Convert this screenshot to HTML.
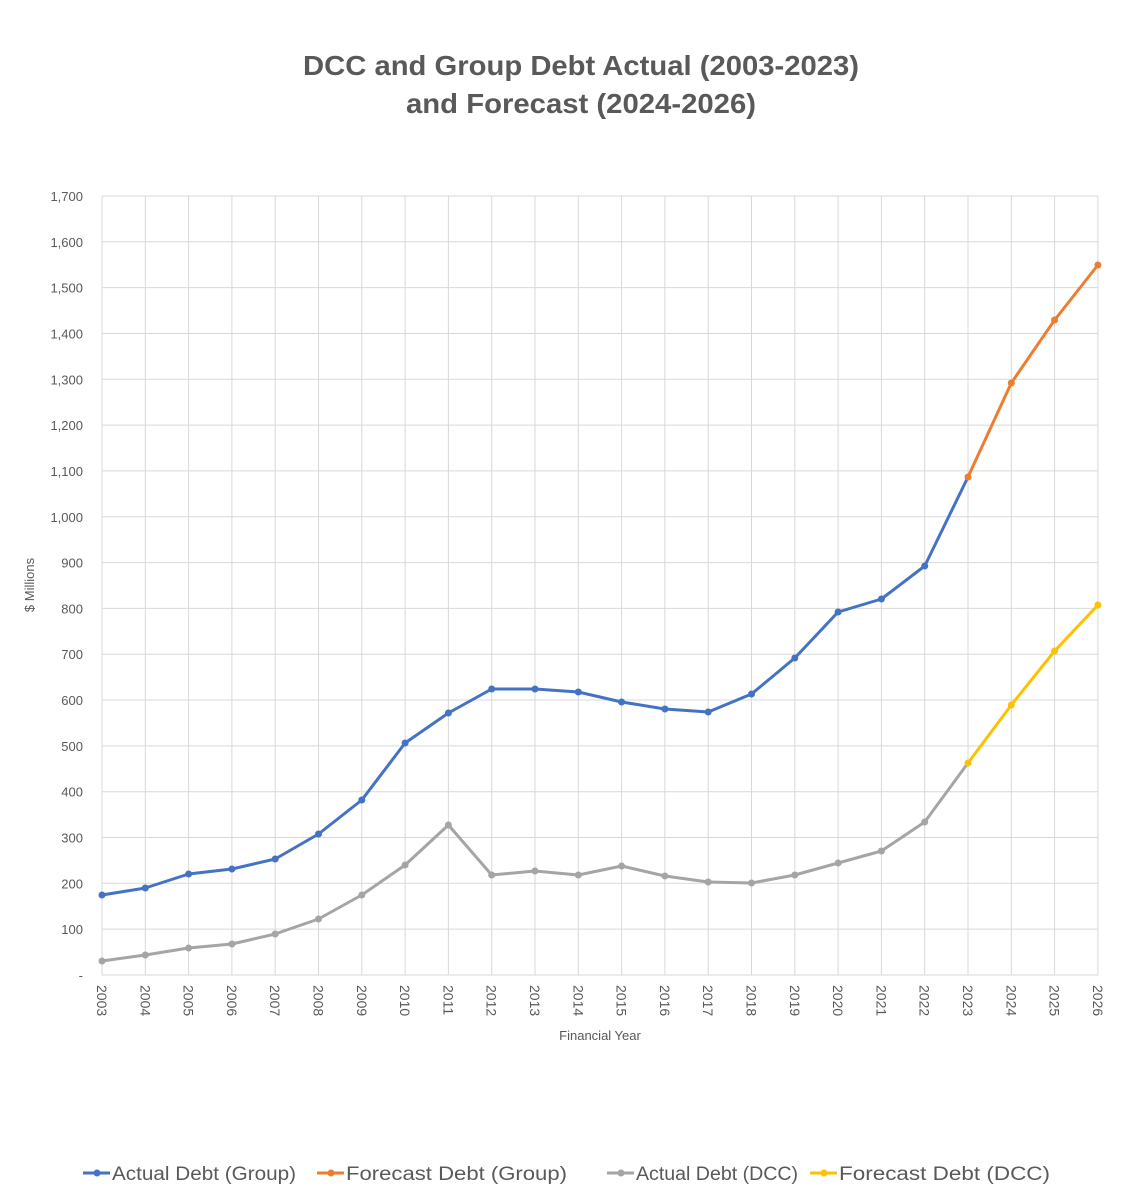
<!DOCTYPE html>
<html><head><meta charset="utf-8"><style>
html,body{margin:0;padding:0;background:#fff;}
svg{display:block;font-family:"Liberation Sans",sans-serif;}
</style></head><body>
<svg width="1126" height="1196" viewBox="0 0 1126 1196" xmlns="http://www.w3.org/2000/svg">
<rect width="1126" height="1196" fill="#fff"/>
<text x="581" y="75" font-size="28" font-weight="bold" fill="#595959" text-anchor="middle" textLength="556" lengthAdjust="spacingAndGlyphs">DCC and Group Debt Actual (2003-2023)</text>
<text x="581" y="113" font-size="28" font-weight="bold" fill="#595959" text-anchor="middle" textLength="350" lengthAdjust="spacingAndGlyphs">and Forecast (2024-2026)</text>
<g stroke="#d9d9d9" stroke-width="1">
<line x1="102" x2="1098" y1="196" y2="196"/><line x1="102" x2="1098" y1="241.8" y2="241.8"/><line x1="102" x2="1098" y1="287.6" y2="287.6"/><line x1="102" x2="1098" y1="333.5" y2="333.5"/><line x1="102" x2="1098" y1="379.3" y2="379.3"/><line x1="102" x2="1098" y1="425.1" y2="425.1"/><line x1="102" x2="1098" y1="470.9" y2="470.9"/><line x1="102" x2="1098" y1="516.8" y2="516.8"/><line x1="102" x2="1098" y1="562.6" y2="562.6"/><line x1="102" x2="1098" y1="608.4" y2="608.4"/><line x1="102" x2="1098" y1="654.2" y2="654.2"/><line x1="102" x2="1098" y1="700" y2="700"/><line x1="102" x2="1098" y1="745.9" y2="745.9"/><line x1="102" x2="1098" y1="791.7" y2="791.7"/><line x1="102" x2="1098" y1="837.5" y2="837.5"/><line x1="102" x2="1098" y1="883.3" y2="883.3"/><line x1="102" x2="1098" y1="929.1" y2="929.1"/><line x1="102" x2="1098" y1="975" y2="975"/>
<line y1="196" y2="975" x1="102" x2="102"/><line y1="196" y2="975" x1="145.3" x2="145.3"/><line y1="196" y2="975" x1="188.6" x2="188.6"/><line y1="196" y2="975" x1="231.9" x2="231.9"/><line y1="196" y2="975" x1="275.2" x2="275.2"/><line y1="196" y2="975" x1="318.5" x2="318.5"/><line y1="196" y2="975" x1="361.8" x2="361.8"/><line y1="196" y2="975" x1="405.1" x2="405.1"/><line y1="196" y2="975" x1="448.4" x2="448.4"/><line y1="196" y2="975" x1="491.7" x2="491.7"/><line y1="196" y2="975" x1="535" x2="535"/><line y1="196" y2="975" x1="578.3" x2="578.3"/><line y1="196" y2="975" x1="621.6" x2="621.6"/><line y1="196" y2="975" x1="664.9" x2="664.9"/><line y1="196" y2="975" x1="708.2" x2="708.2"/><line y1="196" y2="975" x1="751.5" x2="751.5"/><line y1="196" y2="975" x1="794.8" x2="794.8"/><line y1="196" y2="975" x1="838.1" x2="838.1"/><line y1="196" y2="975" x1="881.4" x2="881.4"/><line y1="196" y2="975" x1="924.7" x2="924.7"/><line y1="196" y2="975" x1="968" x2="968"/><line y1="196" y2="975" x1="1011.3" x2="1011.3"/><line y1="196" y2="975" x1="1054.6" x2="1054.6"/><line y1="196" y2="975" x1="1097.9" x2="1097.9"/>
</g>
<g font-size="13" fill="#595959" text-anchor="end">
<text x="83" y="201">1,700</text><text x="83" y="246.8">1,600</text><text x="83" y="292.6">1,500</text><text x="83" y="338.5">1,400</text><text x="83" y="384.3">1,300</text><text x="83" y="430.1">1,200</text><text x="83" y="475.9">1,100</text><text x="83" y="521.8">1,000</text><text x="83" y="567.6">900</text><text x="83" y="613.4">800</text><text x="83" y="659.2">700</text><text x="83" y="705">600</text><text x="83" y="750.9">500</text><text x="83" y="796.7">400</text><text x="83" y="842.5">300</text><text x="83" y="888.3">200</text><text x="83" y="934.1">100</text><text x="83" y="980">-</text>
</g>
<g font-size="14" fill="#595959">
<text transform="translate(97,985) rotate(90)">2003</text><text transform="translate(140.3,985) rotate(90)">2004</text><text transform="translate(183.6,985) rotate(90)">2005</text><text transform="translate(226.9,985) rotate(90)">2006</text><text transform="translate(270.2,985) rotate(90)">2007</text><text transform="translate(313.5,985) rotate(90)">2008</text><text transform="translate(356.8,985) rotate(90)">2009</text><text transform="translate(400.1,985) rotate(90)">2010</text><text transform="translate(443.4,985) rotate(90)">2011</text><text transform="translate(486.7,985) rotate(90)">2012</text><text transform="translate(530,985) rotate(90)">2013</text><text transform="translate(573.3,985) rotate(90)">2014</text><text transform="translate(616.6,985) rotate(90)">2015</text><text transform="translate(659.9,985) rotate(90)">2016</text><text transform="translate(703.2,985) rotate(90)">2017</text><text transform="translate(746.5,985) rotate(90)">2018</text><text transform="translate(789.8,985) rotate(90)">2019</text><text transform="translate(833.1,985) rotate(90)">2020</text><text transform="translate(876.4,985) rotate(90)">2021</text><text transform="translate(919.7,985) rotate(90)">2022</text><text transform="translate(963,985) rotate(90)">2023</text><text transform="translate(1006.3,985) rotate(90)">2024</text><text transform="translate(1049.6,985) rotate(90)">2025</text><text transform="translate(1092.9,985) rotate(90)">2026</text>
</g>
<text x="600" y="1040" font-size="13" fill="#595959" text-anchor="middle">Financial Year</text>
<text transform="translate(34,585) rotate(-90)" font-size="13" fill="#595959" text-anchor="middle">$ Millions</text>
<g fill="none" stroke-width="3" stroke-linejoin="round">
<polyline stroke="#4472c4" points="102,895 145.3,888 188.6,874 231.9,869 275.2,859 318.5,834 361.8,800 405.1,743 448.4,713 491.7,689 535,689 578.3,692 621.6,702 664.9,709 708.2,712 751.5,694 794.8,658 838.1,612 881.4,599 924.7,566 968,477"/>
<polyline stroke="#ed7d31" points="968,477 1011.3,383 1054.6,320 1097.9,265"/>
<polyline stroke="#a5a5a5" points="102,961 145.3,955 188.6,948 231.9,944 275.2,934 318.5,919 361.8,895 405.1,865 448.4,825 491.7,875 535,871 578.3,875 621.6,866 664.9,876 708.2,882 751.5,883 794.8,875 838.1,863 881.4,851 924.7,822 968,763"/>
<polyline stroke="#ffc000" points="968,763 1011.3,705 1054.6,651 1097.9,605"/>
</g>
<g fill="#4472c4">
<circle cx="102" cy="895" r="3.5"/><circle cx="145.3" cy="888" r="3.5"/><circle cx="188.6" cy="874" r="3.5"/><circle cx="231.9" cy="869" r="3.5"/><circle cx="275.2" cy="859" r="3.5"/><circle cx="318.5" cy="834" r="3.5"/><circle cx="361.8" cy="800" r="3.5"/><circle cx="405.1" cy="743" r="3.5"/><circle cx="448.4" cy="713" r="3.5"/><circle cx="491.7" cy="689" r="3.5"/><circle cx="535" cy="689" r="3.5"/><circle cx="578.3" cy="692" r="3.5"/><circle cx="621.6" cy="702" r="3.5"/><circle cx="664.9" cy="709" r="3.5"/><circle cx="708.2" cy="712" r="3.5"/><circle cx="751.5" cy="694" r="3.5"/><circle cx="794.8" cy="658" r="3.5"/><circle cx="838.1" cy="612" r="3.5"/><circle cx="881.4" cy="599" r="3.5"/><circle cx="924.7" cy="566" r="3.5"/>
</g>
<g fill="#ed7d31"><circle cx="968" cy="477" r="3.5"/><circle cx="1011.3" cy="383" r="3.5"/><circle cx="1054.6" cy="320" r="3.5"/><circle cx="1097.9" cy="265" r="3.5"/></g>
<g fill="#a5a5a5">
<circle cx="102" cy="961" r="3.5"/><circle cx="145.3" cy="955" r="3.5"/><circle cx="188.6" cy="948" r="3.5"/><circle cx="231.9" cy="944" r="3.5"/><circle cx="275.2" cy="934" r="3.5"/><circle cx="318.5" cy="919" r="3.5"/><circle cx="361.8" cy="895" r="3.5"/><circle cx="405.1" cy="865" r="3.5"/><circle cx="448.4" cy="825" r="3.5"/><circle cx="491.7" cy="875" r="3.5"/><circle cx="535" cy="871" r="3.5"/><circle cx="578.3" cy="875" r="3.5"/><circle cx="621.6" cy="866" r="3.5"/><circle cx="664.9" cy="876" r="3.5"/><circle cx="708.2" cy="882" r="3.5"/><circle cx="751.5" cy="883" r="3.5"/><circle cx="794.8" cy="875" r="3.5"/><circle cx="838.1" cy="863" r="3.5"/><circle cx="881.4" cy="851" r="3.5"/><circle cx="924.7" cy="822" r="3.5"/>
</g>
<g fill="#ffc000"><circle cx="968" cy="763" r="3.5"/><circle cx="1011.3" cy="705" r="3.5"/><circle cx="1054.6" cy="651" r="3.5"/><circle cx="1097.9" cy="605" r="3.5"/></g>
<g font-size="19" fill="#595959">
<line x1="83" x2="110" y1="1173" y2="1173" stroke="#4472c4" stroke-width="3"/><circle cx="97" cy="1173" r="3.5" fill="#4472c4"/><text x="112" y="1180" textLength="184" lengthAdjust="spacingAndGlyphs">Actual Debt (Group)</text>
<line x1="317" x2="344" y1="1173" y2="1173" stroke="#ed7d31" stroke-width="3"/><circle cx="331" cy="1173" r="3.5" fill="#ed7d31"/><text x="346" y="1180" textLength="221" lengthAdjust="spacingAndGlyphs">Forecast Debt (Group)</text>
<line x1="607" x2="634" y1="1173" y2="1173" stroke="#a5a5a5" stroke-width="3"/><circle cx="621" cy="1173" r="3.5" fill="#a5a5a5"/><text x="636" y="1180" textLength="162" lengthAdjust="spacingAndGlyphs">Actual Debt (DCC)</text>
<line x1="810" x2="837" y1="1173" y2="1173" stroke="#ffc000" stroke-width="3"/><circle cx="824" cy="1173" r="3.5" fill="#ffc000"/><text x="839" y="1180" textLength="211" lengthAdjust="spacingAndGlyphs">Forecast Debt (DCC)</text>
</g>
</svg>
</body></html>
